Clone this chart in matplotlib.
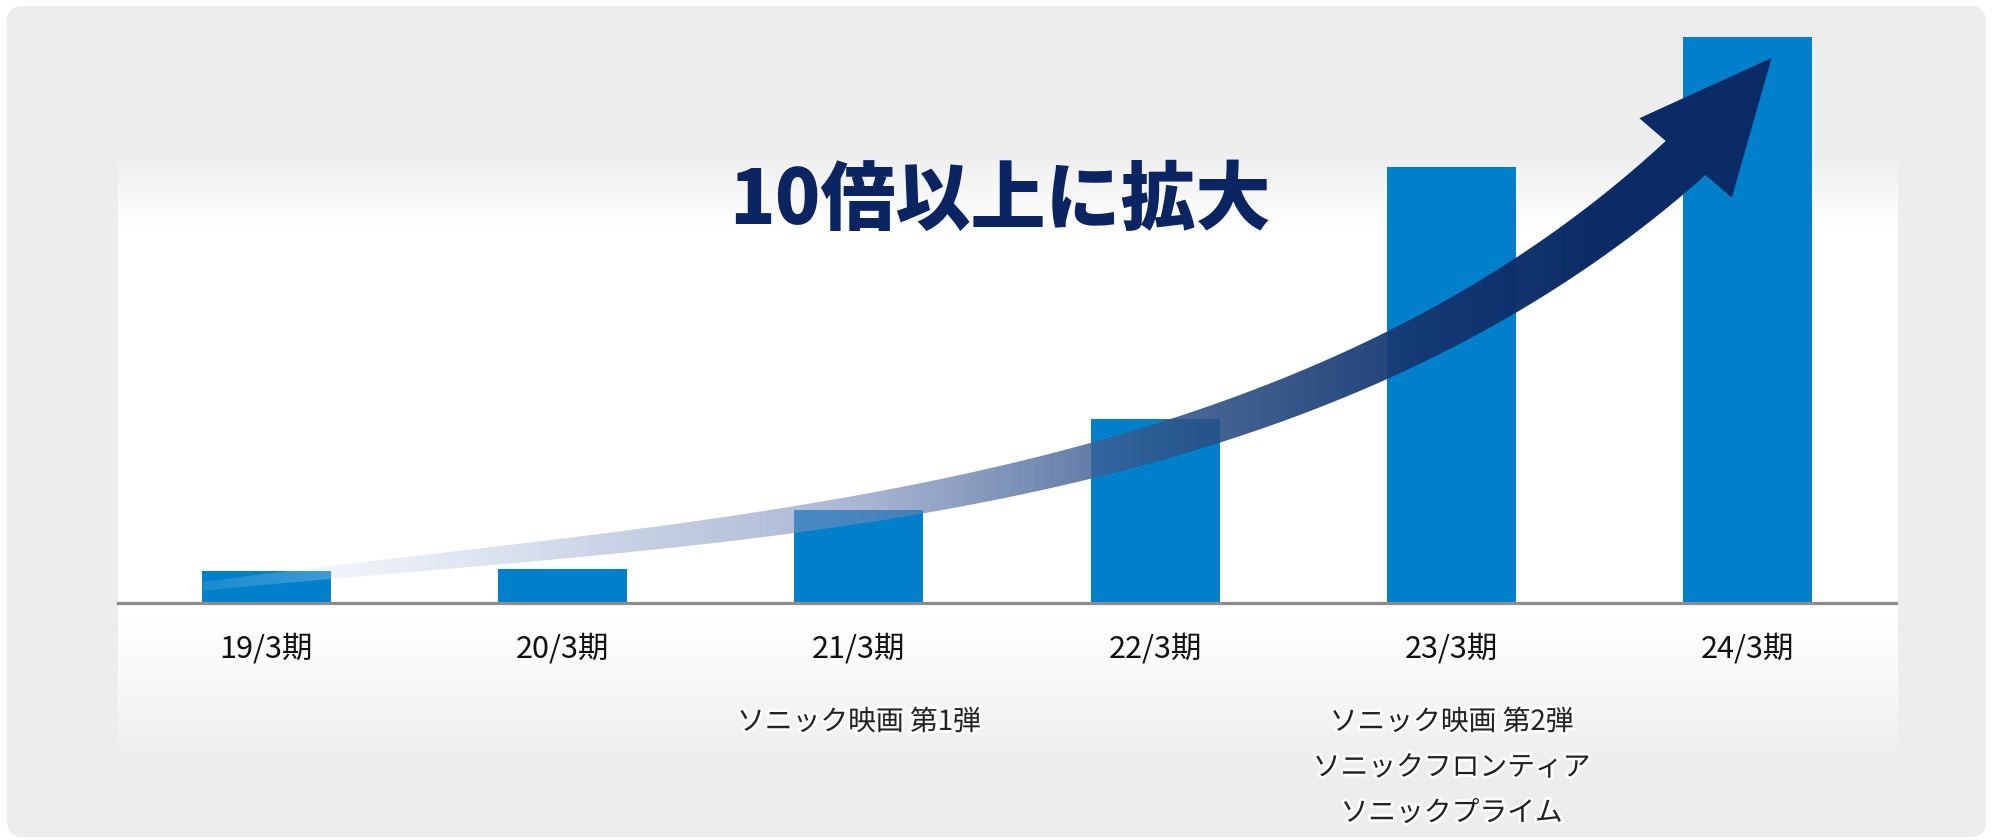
import numpy as np
import matplotlib
matplotlib.use("Agg")
import matplotlib.pyplot as plt
from matplotlib.patches import FancyBboxPatch, PathPatch
from matplotlib.path import Path
import matplotlib.patheffects as pe

plt.rcParams['font.family'] = ['Noto Sans CJK JP', 'DejaVu Sans']

# ---- data -------------------------------------------------------------
periods = ["19/3期", "20/3期", "21/3期", "22/3期", "23/3期", "24/3期"]
sales = [3.2, 3.4, 9.3, 18.4, 43.6, 56.6]
notes = [[], [], ["ソニック映画 第1弾"], [],
         ["ソニック映画 第2弾", "ソニックフロンティア", "ソニックプライム"], []]
headline = "10倍以上に拡大"

# growth arrow guide points, in (period index, value) coordinates
arrow_x = [-0.26, 0.22, 0.82, 1.46, 2.22, 2.79, 3.15, 3.77, 4.22, 4.50, 4.79]
arrow_y = [1.5, 2.5, 5.1, 7.5, 9.8, 14.1, 18.1, 24.8, 31.5, 36.7, 44.5]
arrow_tip = (5.08, 54.5)

BAR_COLOR = "#0080CB"
NAVY = "#0B2462"
GREY = 237 / 255

W, H = 1993, 840
fig = plt.figure(figsize=(W / 100, H / 100), dpi=100)
fig.patch.set_facecolor("white")

# ---- background card with a soft white panel -------------------------
bg = fig.add_axes([0, 0, 1, 1], zorder=0)
bg.axis("off")
card = FancyBboxPatch((7, 3), W - 14, H - 9,
                      boxstyle="round,pad=0,rounding_size=16",
                      facecolor=(GREY,) * 3, edgecolor="none")
bg.add_patch(card)

rows = np.arange(H)            # distance from the top edge
shade = np.full(H, GREY)
top = (rows >= 148) & (rows < 228)
shade[top] = GREY + (1 - GREY) * (rows[top] - 148) / 80
shade[(rows >= 228) & (rows < 620)] = 1.0
bot = (rows >= 620) & (rows < 770)
shade[bot] = 1 - (1 - GREY) * (rows[bot] - 620) / 150
band = shade[40:800]
panel_img = np.dstack([np.repeat(band[:, None], 1780, axis=1)] * 3)
bg.imshow(panel_img, extent=(118, 1898, H - 800, H - 40), origin="upper",
          aspect="auto", interpolation="nearest", zorder=1)
bg.set_xlim(0, W)
bg.set_ylim(0, H)

# ---- bars ---------------------------------------------------------------
ax = fig.add_axes([118 / W, (H - 603) / H, 1778 / W, 600 / H], zorder=1)
ax.patch.set_alpha(0)
ax.set_xlim(-0.5, 5.5)
ax.set_ylim(0, 60)
x = np.arange(len(periods))
ax.bar(x, sales, width=0.436, color=BAR_COLOR, zorder=1)
for side in ("left", "right", "top"):
    ax.spines[side].set_visible(False)
ax.spines["bottom"].set_color("#8C8C8C")
ax.spines["bottom"].set_linewidth(2.3)
ax.spines["bottom"].set_zorder(2)
ax.set_yticks([])
ax.set_xticks(x)
ax.set_xticklabels(periods, fontsize=22, color="#111111")
ax.tick_params(axis="x", length=0, pad=22)

glow = [pe.withStroke(linewidth=4, foreground="white", alpha=0.85)]
for i, lines in enumerate(notes):
    for k, line in enumerate(lines):
        ax.annotate(line, xy=(i, 0), xycoords="data",
                    xytext=(0, -(119 + k * 45.5) * 0.72),
                    textcoords="offset points", ha="center", va="center",
                    fontsize=20, color="#222222", path_effects=glow,
                    annotation_clip=False)

fig.text(1000 / W, 1 - 202 / H, headline, ha="center", va="center",
         fontsize=54, fontweight="heavy", color=NAVY)

# ---- growth arrow -----------------------------------------------------------
ov = fig.add_axes([0, 0, 1, 1], zorder=3)
ov.axis("off")
ov.patch.set_alpha(0)


def bezier(ctrl, t):
    t = np.asarray(t)[:, None]
    p0, p1, p2, p3 = ctrl
    return ((1 - t) ** 3 * p0 + 3 * (1 - t) ** 2 * t * p1
            + 3 * (1 - t) * t ** 2 * p2 + t ** 3 * p3)


def fit_bezier(P, iters=8):
    """Least-squares cubic Bezier with fixed end points."""
    P = np.asarray(P, float)
    p0, p3 = P[0], P[-1]
    t = np.r_[0, np.cumsum(np.linalg.norm(np.diff(P, axis=0), axis=1))]
    t /= t[-1]
    for _ in range(iters):
        A = np.column_stack([3 * (1 - t) ** 2 * t, 3 * (1 - t) * t ** 2])
        rhs = P - np.outer((1 - t) ** 3, p0) - np.outer(t ** 3, p3)
        sol = np.linalg.lstsq(A, rhs, rcond=None)[0]
        ctrl = [p0, sol[0], sol[1], p3]
        dense_t = np.linspace(0, 1, 2000)
        dense = bezier(ctrl, dense_t)
        dist = np.linalg.norm(P[:, None, :] - dense[None, :, :], axis=2)
        t = dense_t[dist.argmin(axis=1)]
        t[0], t[-1] = 0.0, 1.0
    return ctrl


guide = ax.transData.transform(np.column_stack([arrow_x, arrow_y]))
ctrl = fit_bezier(guide)
curve = bezier(ctrl, np.linspace(0, 1, 500))
tip = ax.transData.transform([arrow_tip])[0]

tang = np.gradient(curve, axis=0)
tang /= np.linalg.norm(tang, axis=1)[:, None]
norm = np.column_stack([-tang[:, 1], tang[:, 0]])
seglen = np.r_[0, np.cumsum(np.linalg.norm(np.diff(curve, axis=0), axis=1))]
frac = seglen / seglen[-1]
width = 8 + 44 * frac ** 0.9
upper = curve + norm * width[:, None] / 2
lower = curve - norm * width[:, None] / 2

E = curve[-1]
d = (tip - E) / np.linalg.norm(tip - E)
nd = np.array([-d[1], d[0]])
head = [E + nd * 26, E + nd * 61, tip, E - nd * 61, E - nd * 26]
outline = np.vstack([upper[:-1], head, lower[:-1][::-1], upper[:1]])
clip = PathPatch(Path(outline, closed=True), facecolor="none",
                 edgecolor="none", transform=ov.transData)
ov.add_patch(clip)

# colour / opacity ramp from a pale tail to a solid navy head
x0, y0 = outline.min(axis=0) - 2
x1, y1 = outline.max(axis=0) + 2
xs = np.linspace(x0, x1, int(x1 - x0))
stops_x = [190, 330, 600, 860, 1150, 1450, 1600]
stops_a = [0.10, 0.30, 0.50, 0.62, 0.87, 0.97, 1.0]
stops_c = np.array([(225, 232, 245), (205, 218, 238), (150, 170, 205),
                    (117, 137, 185), (51, 87, 140), (18, 52, 110),
                    (10, 43, 102)]) / 255
alpha = np.interp(xs, stops_x, stops_a)
rgb = np.column_stack([np.interp(xs, stops_x, stops_c[:, j]) for j in range(3)])
grad = np.dstack([np.repeat(rgb[None, :, j], 4, axis=0) for j in range(3)]
                 + [np.repeat(alpha[None, :], 4, axis=0)])
im = ov.imshow(grad, extent=(x0, x1, y0, y1), origin="lower", aspect="auto",
               interpolation="bilinear", zorder=2)
im.set_clip_path(clip)
ov.set_xlim(0, W)
ov.set_ylim(0, H)

fig.savefig("out.png", dpi=100, facecolor=fig.get_facecolor())
